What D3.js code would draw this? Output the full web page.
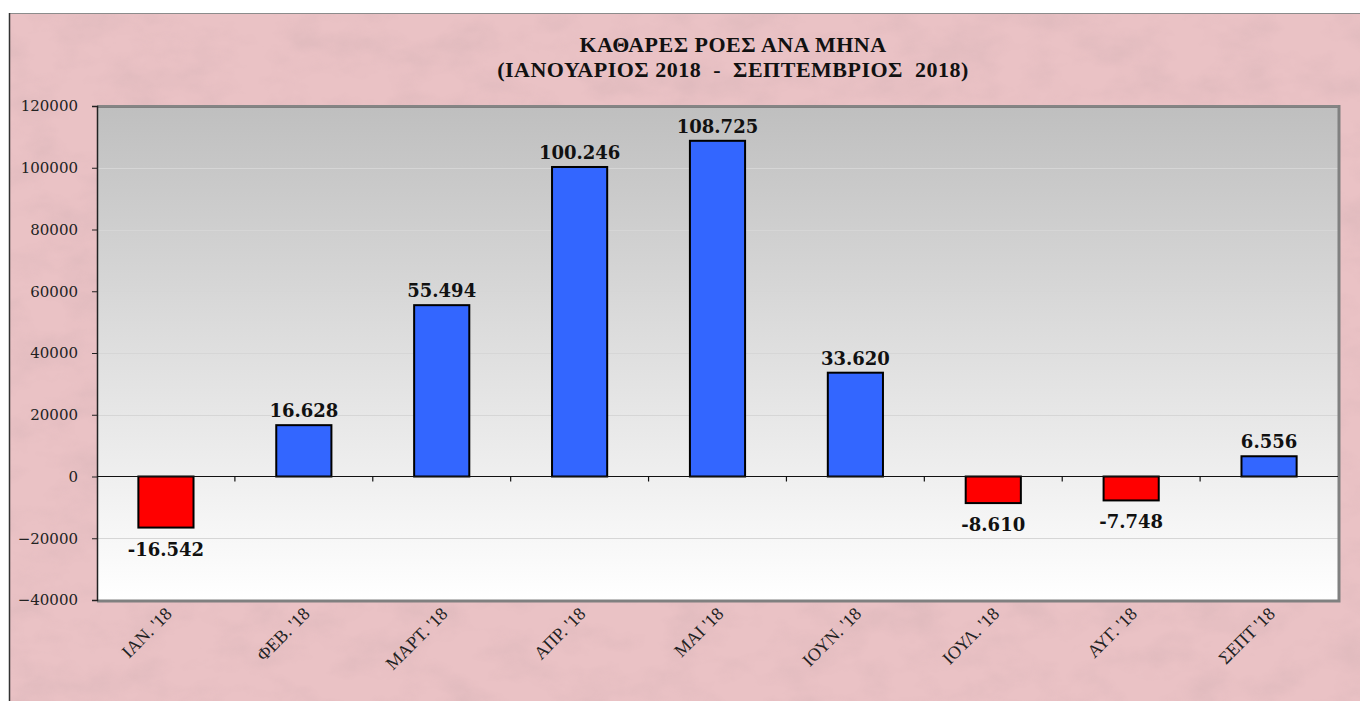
<!DOCTYPE html>
<html>
<head>
<meta charset="utf-8">
<script src="https://cdn.jsdelivr.net/npm/d3@7"></script>
<style>
  body { margin: 0; background: #fff; }
  svg { display: block; }
</style>
</head>
<body>
<div id="chart"></div>
<script>
// months and net flows
var months = ["ΙΑΝ. '18", "ΦΕΒ. '18", "ΜΑΡΤ. '18", "ΑΠΡ. '18", "ΜΑΙ '18", "ΙΟΥΝ. '18", "ΙΟΥΛ. '18", "ΑΥΓ. '18", "ΣΕΠΤ '18"]
var flows = [-16542, 16628, 55494, 100246, 108725, 33620, -8610, -7748, 6556]
var yTicks = [-40000, -20000, 0, 20000, 40000, 60000, 80000, 100000, 120000]
var titleLines = ["ΚΑΘΑΡΕΣ ΡΟΕΣ ΑΝΑ ΜΗΝΑ", "(ΙΑΝΟΥΑΡΙΟΣ 2018  -  ΣΕΠΤΕΜΒΡΙΟΣ  2018)"]

var width = 1360, height = 701
var plot = { left: 97, right: 1338, top: 106, bottom: 600 }

var locale = d3.formatLocale({ decimal: ",", thousands: ".", grouping: [3], currency: ["", ""], minus: "-" })
var fmt = locale.format(",")

var svg = d3.select("#chart").append("svg")
    .attr("width", width)
    .attr("height", height)

var defs = svg.append("defs")

// pinkish marble paper
var filt = defs.append("filter").attr("id", "marble")
    .attr("x", 0).attr("y", 0).attr("width", 1).attr("height", 1)
filt.append("feTurbulence").attr("type", "fractalNoise")
    .attr("baseFrequency", "0.018 0.03").attr("numOctaves", 4).attr("seed", 7).attr("result", "n")
filt.append("feColorMatrix").attr("in", "n").attr("type", "matrix")
    .attr("values", "0 0 0 0 0.55  0 0 0 0 0.38  0 0 0 0 0.40  0 0 0 1.1 -0.45").attr("result", "c")
filt.append("feComposite").attr("in", "c").attr("in2", "SourceGraphic").attr("operator", "in")

var grad = defs.append("linearGradient").attr("id", "plotbg")
    .attr("x1", 0).attr("y1", 0).attr("x2", 0).attr("y2", 1)
grad.append("stop").attr("offset", "0%").attr("stop-color", "#bfbfbf")
grad.append("stop").attr("offset", "100%").attr("stop-color", "#ffffff")

// frame
svg.append("rect").attr("x", 10).attr("y", 14).attr("width", width - 10).attr("height", height - 14)
    .attr("fill", "#eac2c5")
svg.append("rect").attr("x", 10).attr("y", 14).attr("width", width - 10).attr("height", height - 14)
    .attr("fill", "#eac2c5").attr("filter", "url(#marble)").attr("opacity", 0.45)
svg.append("line").attr("x1", 9).attr("x2", width).attr("y1", 13.5).attr("y2", 13.5)
    .attr("stroke", "#8c8c8c").attr("stroke-width", 1)
svg.append("line").attr("x1", 9.5).attr("x2", 9.5).attr("y1", 13).attr("y2", height)
    .attr("stroke", "#333").attr("stroke-width", 1.5)

// title
var title = svg.append("text")
    .attr("x", 733).attr("y", 52)
    .attr("text-anchor", "middle")
    .style("font-family", "'Liberation Serif', serif")
    .style("font-weight", "bold")
    .style("font-size", "22px")
    .style("letter-spacing", "0.5px")
    .style("fill", "#111")
title.selectAll("tspan")
    .data(titleLines)
    .enter()
    .append("tspan")
    .attr("x", 733)
    .attr("dy", function (d, i) { return i === 0 ? 0 : 25 })
    .attr("xml:space", "preserve")
    .style("white-space", "pre")
    .text(function (d) { return d })

var x = d3.scaleBand().domain(months).range([plot.left, plot.right]).paddingInner(0).paddingOuter(0)
var y = d3.scaleLinear().domain([-40000, 120000]).range([plot.bottom, plot.top])

// plot area
svg.append("rect")
    .attr("x", plot.left).attr("y", plot.top)
    .attr("width", plot.right - plot.left).attr("height", plot.bottom - plot.top)
    .attr("fill", "url(#plotbg)")

// grid
svg.append("g").selectAll("line")
    .data(yTicks.filter(function (d) { return d !== 0 && d !== -40000 }))
    .enter().append("line")
    .attr("x1", plot.left).attr("x2", plot.right)
    .attr("y1", function (d) { return Math.round(y(d)) + 0.5 })
    .attr("y2", function (d) { return Math.round(y(d)) + 0.5 })
    .attr("stroke", "#d6d6d6").attr("stroke-width", 1)

// plot border (shadow on right and bottom)
svg.append("path")
    .attr("d", "M" + plot.left + "," + (plot.top + 0.5) + "H" + (plot.right + 1) + "V" + (plot.bottom + 1) + "H" + plot.left)
    .attr("fill", "none").attr("stroke", "#808080").attr("stroke-width", 3)
svg.append("line").attr("x1", plot.left).attr("x2", plot.right).attr("y1", plot.top).attr("y2", plot.top)
    .attr("stroke", "#8a8a8a").attr("stroke-width", 1)

// y axis
var yAxis = svg.append("g")
    .attr("transform", "translate(" + plot.left + ",0)")
    .call(d3.axisLeft(y).tickValues(yTicks).tickSize(5).tickPadding(14).tickFormat(d3.format("d")))
yAxis.select(".domain").attr("stroke", "#222").attr("stroke-width", 1.5)
yAxis.selectAll(".tick line").attr("stroke", "#222")
yAxis.selectAll("text")
    .style("font-family", "'DejaVu Serif', serif")
    .style("font-size", "15px")
    .style("fill", "#222")

// bars
var bw = x.bandwidth() * 0.4
svg.append("g").selectAll("rect")
    .data(flows)
    .enter().append("rect")
    .attr("x", function (d, i) { return x(months[i]) + (x.bandwidth() - bw) / 2 })
    .attr("y", function (d) { return y(Math.max(0, d)) })
    .attr("width", bw)
    .attr("height", function (d) { return Math.abs(y(d) - y(0)) })
    .attr("fill", function (d) { return d < 0 ? "#ff0000" : "#3366ff" })
    .attr("stroke", "#000").attr("stroke-width", 2)

// zero line and category ticks
svg.append("line").attr("x1", plot.left).attr("x2", plot.right)
    .attr("y1", y(0)).attr("y2", y(0)).attr("stroke", "#111").attr("stroke-width", 1.2)
svg.append("g").selectAll("line")
    .data(months.slice(1))
    .enter().append("line")
    .attr("x1", function (d) { return x(d) }).attr("x2", function (d) { return x(d) })
    .attr("y1", y(0)).attr("y2", y(0) + 5)
    .attr("stroke", "#111").attr("stroke-width", 1.2)

// value labels
svg.append("g").selectAll("text")
    .data(flows)
    .enter().append("text")
    .attr("x", function (d, i) { return x(months[i]) + x.bandwidth() / 2 })
    .attr("y", function (d) { return d < 0 ? y(d) + 28 : y(d) - 8 })
    .attr("text-anchor", "middle")
    .style("font-family", "'DejaVu Serif', serif")
    .style("font-weight", "bold")
    .style("font-size", "18px")
    .style("fill", "#111")
    .text(function (d) { return fmt(d) })

// category labels
svg.append("g").selectAll("text")
    .data(months)
    .enter().append("text")
    .attr("transform", function (d) {
        return "translate(" + (x(d) + x.bandwidth() / 2 + 7) + "," + 615 + ") rotate(-45)"
    })
    .attr("text-anchor", "end")
    .style("font-family", "'Liberation Serif', serif")
    .style("font-size", "18px")
    .style("fill", "#222")
    .text(function (d) { return d })
</script>
</body>
</html>
